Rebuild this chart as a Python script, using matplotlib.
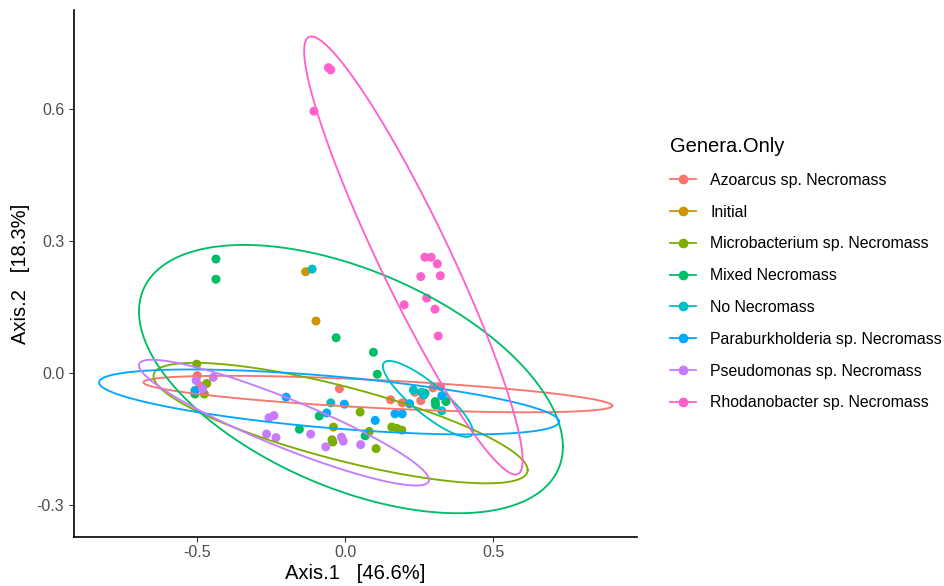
import numpy as np
import matplotlib
matplotlib.use("Agg")
import matplotlib.pyplot as plt
from matplotlib.lines import Line2D

plt.rcParams['font.family'] = ['Liberation Sans', 'DejaVu Sans']

## Data
## ====
groups = ["Azoarcus sp. Necromass", "Initial", "Microbacterium sp. Necromass",
          "Mixed Necromass", "No Necromass", "Paraburkholderia sp. Necromass",
          "Pseudomonas sp. Necromass", "Rhodanobacter sp. Necromass"]
colors = ["#F8766D", "#CD9600", "#7CAE00", "#00BE67",
          "#00BFC4", "#00A9FF", "#C77CFF", "#FF61CC"]

# ordination scores (Axis.1, Axis.2)
azo_x = [-0.499, -0.490, -0.019, 0.154, 0.193, 0.236, 0.256, 0.297, 0.323]
azo_y = [-0.006, -0.029, -0.036, -0.061, -0.068, -0.044, -0.063, -0.034, -0.031]

ini_x = [-0.133, -0.098]
ini_y = [0.230, 0.118]

mic_x = [-0.501, -0.467, -0.475, 0.051, -0.039, -0.044, -0.041, 0.082, 0.105, 0.158, 0.175, 0.192]
mic_y = [0.020, -0.024, -0.048, -0.089, -0.123, -0.152, -0.157, -0.133, -0.172, -0.123, -0.126, -0.130]

mix_x = [-0.436, -0.436, -0.030, 0.096, 0.109, -0.507, -0.087, -0.154, 0.068, 0.270, 0.305, 0.306, 0.341]
mix_y = [0.259, 0.213, 0.080, 0.047, -0.003, -0.048, -0.098, -0.128, -0.143, -0.046, -0.065, -0.073, -0.065]

non_x = [-0.111, -0.048, 0.231, 0.259, 0.267, 0.327]
non_y = [0.236, -0.068, -0.039, -0.044, -0.050, -0.086]

par_x = [-0.507, -0.199, -0.002, -0.062, 0.102, 0.169, 0.193, 0.218, 0.327]
par_y = [-0.040, -0.055, -0.071, -0.091, -0.108, -0.093, -0.093, -0.070, -0.052]

pse_x = [-0.503, -0.445, -0.481, -0.257, -0.240, -0.265, -0.233, -0.116, -0.065, -0.012, -0.006, 0.053]
pse_y = [-0.017, -0.010, -0.036, -0.102, -0.097, -0.139, -0.147, -0.139, -0.168, -0.146, -0.155, -0.163]

rho_x = [-0.056, -0.048, -0.105, 0.270, 0.291, 0.312, 0.256, 0.322, 0.276, 0.200, 0.304, 0.315]
rho_y = [0.694, 0.689, 0.595, 0.263, 0.263, 0.248, 0.219, 0.221, 0.170, 0.155, 0.145, 0.084]

xs = [azo_x, ini_x, mic_x, mix_x, non_x, par_x, pse_x, rho_x]
ys = [azo_y, ini_y, mic_y, mix_y, non_y, par_y, pse_y, rho_y]

# 95% ellipses: centre x, centre y, half width, half height, correlation
# (Initial has too few samples, no ellipse)
ell_cx = [0.111, None, -0.015, 0.020, 0.280, -0.054, -0.206, 0.231]
ell_cy = [-0.048, None, -0.114, -0.014, -0.059, -0.066, -0.113, 0.267]
ell_sx = [0.792, None, 0.632, 0.716, 0.152, 0.777, 0.490, 0.369]
ell_sy = [0.0415, None, 0.137, 0.305, 0.0864, 0.0739, 0.143, 0.498]
ell_r = [-0.641, None, -0.779, -0.504, -0.86, -0.60, -0.91, -0.934]

## Plot
## ====
fig = plt.figure(figsize=(9.45, 5.86), dpi=100)
ax = fig.add_axes([0.0783, 0.0836, 0.5958, 0.8993])

for gx, gy, col in zip(xs, ys, colors):
    ax.scatter(gx, gy, s=42, color=col, edgecolors="none", zorder=2)

t = np.linspace(0, 2 * np.pi, 400)
for cx, cy, sx, sy, r, col in zip(ell_cx, ell_cy, ell_sx, ell_sy, ell_r, colors):
    if cx is None:
        continue
    ex = cx + sx * np.cos(t)
    ey = cy + sy * (r * np.cos(t) + np.sqrt(1 - r ** 2) * np.sin(t))
    ax.plot(ex, ey, color=col, lw=1.35, zorder=3)

ax.set_xlim(-0.9155, 0.9865)
ax.set_ylim(-0.373, 0.825)
ax.set_xticks([-0.5, 0.0, 0.5])
ax.set_xticklabels(["-0.5", "0.0", "0.5"])
ax.set_yticks([-0.3, 0.0, 0.3, 0.6])
ax.set_yticklabels(["-0.3", "0.0", "0.3", "0.6"])
ax.tick_params(colors="#333333", labelcolor="#4D4D4D", labelsize=11.5, length=3.5, width=0.8)
ax.tick_params(axis="x", pad=2.5)

for side in ["top", "right"]:
    ax.spines[side].set_visible(False)
for side in ["left", "bottom"]:
    ax.spines[side].set_linewidth(1.2)
    ax.spines[side].set_color("black")

ax.set_xlabel("Axis.1   [46.6%]", fontsize=14.5, labelpad=2.5)
ax.set_ylabel("Axis.2   [18.3%]", fontsize=14.5, labelpad=5)

handles = [Line2D([0], [0], color=c, marker="o", markersize=6, lw=1.3) for c in colors]
leg = fig.legend(handles, groups, title="Genera.Only", loc="upper left",
                 bbox_to_anchor=(0.709, 0.766), frameon=False, fontsize=11.4,
                 title_fontsize=14.5, labelspacing=1.06, handlelength=1.64,
                 handletextpad=0.9, borderaxespad=0, borderpad=0)
leg._legend_box.align = "left"

plt.savefig("out.png", dpi=100)
